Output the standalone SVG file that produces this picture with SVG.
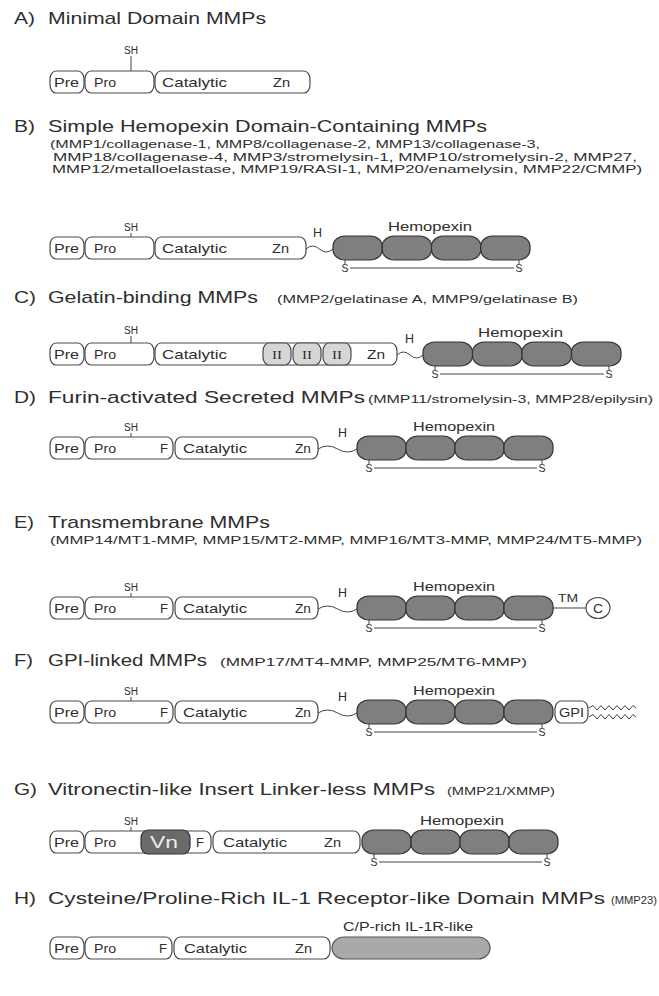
<svg xmlns="http://www.w3.org/2000/svg" width="659" height="996" viewBox="0 0 659 996">
<defs>
<style>
text{font-family:"Liberation Sans",Arial,sans-serif;fill:#2e2e2e}
.ttl{font-size:17px}
.sub{font-size:11px}
.sub2{font-size:10px}
.lb{font-size:13px}
.sm{font-size:11px}
.hx{font-size:12px}
.sh{font-size:10px}
.rn{font-family:"Liberation Serif",serif;font-size:13px}
.dom{fill:#fff;stroke:#4a4a4a;stroke-width:1.2}
.bl{fill:#7f7f7f;stroke:#333;stroke-width:1.2}
.ii{fill:#d6d6d6;stroke:#4a4a4a;stroke-width:1.2}
.vn{fill:#6a6a6a;stroke:#333;stroke-width:1.2}
.cp{fill:#a9a9a9;stroke:#555;stroke-width:1.2}
.cn{fill:none;stroke:#444;stroke-width:1}
</style>
<linearGradient id="proF" x1="0" x2="1" y1="0" y2="0"><stop offset="0.76" stop-color="#fff"/><stop offset="0.76" stop-color="#d4d4d4"/></linearGradient>
<linearGradient id="proG" x1="0" x2="1" y1="0" y2="0"><stop offset="0.825" stop-color="#fff"/><stop offset="0.825" stop-color="#d4d4d4"/></linearGradient>
</defs>

<g id="titles">
<text class="ttl" x="14" y="24" textLength="21" lengthAdjust="spacingAndGlyphs">A)</text>
<text class="ttl" x="48" y="24" textLength="218" lengthAdjust="spacingAndGlyphs">Minimal Domain MMPs</text>
<text class="ttl" x="14" y="132" textLength="21" lengthAdjust="spacingAndGlyphs">B)</text>
<text class="ttl" x="48" y="132" textLength="439" lengthAdjust="spacingAndGlyphs">Simple Hemopexin Domain-Containing MMPs</text>
<text class="sub" x="50" y="148" textLength="490" lengthAdjust="spacingAndGlyphs">(MMP1/collagenase-1, MMP8/collagenase-2, MMP13/collagenase-3,</text>
<text class="sub" x="53" y="160.5" textLength="584" lengthAdjust="spacingAndGlyphs">MMP18/collagenase-4, MMP3/stromelysin-1, MMP10/stromelysin-2, MMP27,</text>
<text class="sub" x="52" y="173" textLength="590" lengthAdjust="spacingAndGlyphs">MMP12/metalloelastase, MMP19/RASI-1, MMP20/enamelysin, MMP22/CMMP)</text>
<text class="ttl" x="14" y="303" textLength="22" lengthAdjust="spacingAndGlyphs">C)</text>
<text class="ttl" x="48" y="303" textLength="210" lengthAdjust="spacingAndGlyphs">Gelatin-binding MMPs</text>
<text class="sub" x="277" y="303" textLength="301" lengthAdjust="spacingAndGlyphs">(MMP2/gelatinase A, MMP9/gelatinase B)</text>
<text class="ttl" x="14" y="403" textLength="22" lengthAdjust="spacingAndGlyphs">D)</text>
<text class="ttl" x="48" y="403" textLength="317" lengthAdjust="spacingAndGlyphs">Furin-activated Secreted MMPs</text>
<text class="sub" x="368" y="403" textLength="285" lengthAdjust="spacingAndGlyphs">(MMP11/stromelysin-3, MMP28/epilysin)</text>
<text class="ttl" x="14" y="528" textLength="20" lengthAdjust="spacingAndGlyphs">E)</text>
<text class="ttl" x="48" y="528" textLength="222" lengthAdjust="spacingAndGlyphs">Transmembrane MMPs</text>
<text class="sub" x="50" y="544" textLength="592" lengthAdjust="spacingAndGlyphs">(MMP14/MT1-MMP, MMP15/MT2-MMP, MMP16/MT3-MMP, MMP24/MT5-MMP)</text>
<text class="ttl" x="14" y="666" textLength="19" lengthAdjust="spacingAndGlyphs">F)</text>
<text class="ttl" x="48" y="666" textLength="159" lengthAdjust="spacingAndGlyphs">GPI-linked MMPs</text>
<text class="sub" x="220" y="666" textLength="307" lengthAdjust="spacingAndGlyphs">(MMP17/MT4-MMP, MMP25/MT6-MMP)</text>
<text class="ttl" x="14" y="795" textLength="23" lengthAdjust="spacingAndGlyphs">G)</text>
<text class="ttl" x="48" y="795" textLength="387" lengthAdjust="spacingAndGlyphs">Vitronectin-like Insert Linker-less MMPs</text>
<text class="sub2" x="447" y="795" textLength="108" lengthAdjust="spacingAndGlyphs">(MMP21/XMMP)</text>
<text class="ttl" x="14" y="904" textLength="22" lengthAdjust="spacingAndGlyphs">H)</text>
<text class="ttl" x="48" y="904" textLength="557" lengthAdjust="spacingAndGlyphs">Cysteine/Proline-Rich IL-1 Receptor-like Domain MMPs</text>
<text class="sub2" x="611" y="904" textLength="46" lengthAdjust="spacingAndGlyphs">(MMP23)</text>
</g>

<g id="connectors">
<path class="cn" d="M131,56V71M131,233V237M131,336V343M131,433V437M131,593V597M131,697V701M131,827V831"/>
<path class="cn" d="M306,249q6.75,-6 13.5,0t13.5,0"/>
<path class="cn" d="M397,355q6.5,-6 13,0t13,0"/>
<path class="cn" d="M318,449q9.75,-6 19.5,0t19.5,0"/>
<path class="cn" d="M318,609q9.75,-6 19.5,0t19.5,0"/>
<path class="cn" d="M318,713q9.75,-6 19.5,0t19.5,0"/>
<path class="cn" d="M345,260V264M519,260V264M350,268H514"/>
<path class="cn" d="M435,366V370M609,366V370M440,374H604"/>
<path class="cn" d="M369,460V464M542,460V464M374,468H537"/>
<path class="cn" d="M369,620V624M542,620V624M374,628H537"/>
<path class="cn" d="M369,724V728M542,724V728M374,732H537"/>
<path class="cn" d="M374,854V858M547,854V858M379,862H542"/>
<path class="cn" d="M553,608H586"/>
<polyline class="cn" points="589,708 593,705.5 597,710 601,705.5 605,710 609,705.5 613,710 617,705.5 621,710 625,705.5 629,710 633,705.5 636,708"/>
<polyline class="cn" points="589,717 593,714.5 597,719 601,714.5 605,719 609,714.5 613,719 617,714.5 621,719 625,714.5 629,719 633,714.5 636,717"/>
</g>

<g id="rowA">
<g id="A-pre"><rect class="dom" x="50" y="71" width="34" height="22" rx="6" ry="8"/><text class="lb" x="54" y="87" textLength="25" lengthAdjust="spacingAndGlyphs">Pre</text></g>
<g id="A-pro"><rect class="dom" x="85" y="71" width="69" height="22" rx="6" ry="8"/><text class="lb" x="94" y="87" textLength="22" lengthAdjust="spacingAndGlyphs">Pro</text><text class="sh" x="124" y="54" textLength="14" lengthAdjust="spacingAndGlyphs">SH</text></g>
<g id="A-cat"><rect class="dom" x="155" y="71" width="155" height="22" rx="6" ry="8"/><text class="lb" x="162" y="87" textLength="65" lengthAdjust="spacingAndGlyphs">Catalytic</text><text class="lb" x="273" y="87" textLength="17" lengthAdjust="spacingAndGlyphs">Zn</text></g>
</g>

<g id="rowB">
<g id="B-pre"><rect class="dom" x="50" y="237" width="34" height="22" rx="6" ry="8"/><text class="lb" x="54" y="253" textLength="25" lengthAdjust="spacingAndGlyphs">Pre</text></g>
<g id="B-pro"><rect class="dom" x="85" y="237" width="69" height="22" rx="6" ry="8"/><text class="lb" x="94" y="253" textLength="22" lengthAdjust="spacingAndGlyphs">Pro</text><text class="sh" x="124" y="231" textLength="14" lengthAdjust="spacingAndGlyphs">SH</text></g>
<g id="B-cat"><rect class="dom" x="155" y="237" width="151" height="22" rx="6" ry="8"/><text class="lb" x="162" y="253" textLength="65" lengthAdjust="spacingAndGlyphs">Catalytic</text><text class="lb" x="272" y="253" textLength="17" lengthAdjust="spacingAndGlyphs">Zn</text></g>
<text class="hx" x="313" y="237" textLength="9" lengthAdjust="spacingAndGlyphs">H</text>
<g id="B-hpx"><rect class="bl" x="333" y="236" width="49.25" height="24" rx="12" ry="10"/><rect class="bl" x="382.25" y="236" width="49.25" height="24" rx="12" ry="10"/><rect class="bl" x="431.5" y="236" width="49.25" height="24" rx="12" ry="10"/><rect class="bl" x="480.75" y="236" width="49.25" height="24" rx="12" ry="10"/>
<text class="hx" x="388" y="231" textLength="84" lengthAdjust="spacingAndGlyphs">Hemopexin</text>
<text class="sm" x="341.5" y="272" textLength="7" lengthAdjust="spacingAndGlyphs">S</text><text class="sm" x="515.5" y="272" textLength="7" lengthAdjust="spacingAndGlyphs">S</text></g>
</g>

<g id="rowC">
<g id="C-pre"><rect class="dom" x="50" y="343" width="34" height="22" rx="6" ry="8"/><text class="lb" x="54" y="359" textLength="25" lengthAdjust="spacingAndGlyphs">Pre</text></g>
<g id="C-pro"><rect class="dom" x="85" y="343" width="69" height="22" rx="6" ry="8"/><text class="lb" x="94" y="359" textLength="22" lengthAdjust="spacingAndGlyphs">Pro</text><text class="sh" x="124" y="334" textLength="14" lengthAdjust="spacingAndGlyphs">SH</text></g>
<g id="C-cat"><rect class="dom" x="155" y="343" width="242" height="22" rx="6" ry="8"/><text class="lb" x="162" y="359" textLength="65" lengthAdjust="spacingAndGlyphs">Catalytic</text><text class="lb" x="367" y="359" textLength="18" lengthAdjust="spacingAndGlyphs">Zn</text></g>
<g id="C-fn"><rect class="ii" x="263" y="343" width="28" height="22" rx="6" ry="8"/><rect class="ii" x="293" y="343" width="28" height="22" rx="6" ry="8"/><rect class="ii" x="323" y="343" width="28" height="22" rx="6" ry="8"/>
<text class="rn" x="272" y="359" textLength="10" lengthAdjust="spacingAndGlyphs">II</text><text class="rn" x="302" y="359" textLength="10" lengthAdjust="spacingAndGlyphs">II</text><text class="rn" x="332" y="359" textLength="10" lengthAdjust="spacingAndGlyphs">II</text></g>
<text class="hx" x="405" y="343" textLength="9" lengthAdjust="spacingAndGlyphs">H</text>
<g id="C-hpx"><rect class="bl" x="423" y="342" width="49.5" height="24" rx="12" ry="10"/><rect class="bl" x="472.5" y="342" width="49.5" height="24" rx="12" ry="10"/><rect class="bl" x="522" y="342" width="49.5" height="24" rx="12" ry="10"/><rect class="bl" x="571.5" y="342" width="49.5" height="24" rx="12" ry="10"/>
<text class="hx" x="478" y="337" textLength="85" lengthAdjust="spacingAndGlyphs">Hemopexin</text>
<text class="sm" x="431.5" y="378" textLength="7" lengthAdjust="spacingAndGlyphs">S</text><text class="sm" x="605.5" y="378" textLength="7" lengthAdjust="spacingAndGlyphs">S</text></g>
</g>

<g id="rowD">
<g id="D-pre"><rect class="dom" x="50" y="437" width="34" height="22" rx="6" ry="8"/><text class="lb" x="54" y="453" textLength="25" lengthAdjust="spacingAndGlyphs">Pre</text></g>
<g id="D-pro"><rect class="dom" x="85" y="437" width="88" height="22" rx="6" ry="8" fill="url(#proF)"/><text class="lb" x="94" y="453" textLength="22" lengthAdjust="spacingAndGlyphs">Pro</text><text class="lb" x="160" y="453" textLength="8" lengthAdjust="spacingAndGlyphs">F</text><text class="sh" x="124" y="431" textLength="14" lengthAdjust="spacingAndGlyphs">SH</text></g>
<g id="D-cat"><rect class="dom" x="175" y="437" width="143" height="22" rx="6" ry="8"/><text class="lb" x="183" y="453" textLength="64" lengthAdjust="spacingAndGlyphs">Catalytic</text><text class="lb" x="295" y="453" textLength="16" lengthAdjust="spacingAndGlyphs">Zn</text></g>
<text class="hx" x="338" y="437" textLength="9" lengthAdjust="spacingAndGlyphs">H</text>
<g id="D-hpx"><rect class="bl" x="357" y="436" width="49" height="24" rx="12" ry="10"/><rect class="bl" x="406" y="436" width="49" height="24" rx="12" ry="10"/><rect class="bl" x="455" y="436" width="49" height="24" rx="12" ry="10"/><rect class="bl" x="504" y="436" width="49" height="24" rx="12" ry="10"/>
<text class="hx" x="413" y="431" textLength="82" lengthAdjust="spacingAndGlyphs">Hemopexin</text>
<text class="sm" x="365.5" y="472" textLength="7" lengthAdjust="spacingAndGlyphs">S</text><text class="sm" x="538.5" y="472" textLength="7" lengthAdjust="spacingAndGlyphs">S</text></g>
</g>

<g id="rowE">
<g id="E-pre"><rect class="dom" x="50" y="597" width="34" height="22" rx="6" ry="8"/><text class="lb" x="54" y="613" textLength="25" lengthAdjust="spacingAndGlyphs">Pre</text></g>
<g id="E-pro"><rect class="dom" x="85" y="597" width="88" height="22" rx="6" ry="8" fill="url(#proF)"/><text class="lb" x="94" y="613" textLength="22" lengthAdjust="spacingAndGlyphs">Pro</text><text class="lb" x="160" y="613" textLength="8" lengthAdjust="spacingAndGlyphs">F</text><text class="sh" x="124" y="591" textLength="14" lengthAdjust="spacingAndGlyphs">SH</text></g>
<g id="E-cat"><rect class="dom" x="175" y="597" width="143" height="22" rx="6" ry="8"/><text class="lb" x="183" y="613" textLength="64" lengthAdjust="spacingAndGlyphs">Catalytic</text><text class="lb" x="295" y="613" textLength="16" lengthAdjust="spacingAndGlyphs">Zn</text></g>
<text class="hx" x="338" y="597" textLength="9" lengthAdjust="spacingAndGlyphs">H</text>
<g id="E-hpx"><rect class="bl" x="357" y="596" width="49" height="24" rx="12" ry="10"/><rect class="bl" x="406" y="596" width="49" height="24" rx="12" ry="10"/><rect class="bl" x="455" y="596" width="49" height="24" rx="12" ry="10"/><rect class="bl" x="504" y="596" width="49" height="24" rx="12" ry="10"/>
<text class="hx" x="413" y="591" textLength="82" lengthAdjust="spacingAndGlyphs">Hemopexin</text>
<text class="sm" x="365.5" y="632" textLength="7" lengthAdjust="spacingAndGlyphs">S</text><text class="sm" x="538.5" y="632" textLength="7" lengthAdjust="spacingAndGlyphs">S</text></g>
<text class="sm" x="558" y="602" textLength="20" lengthAdjust="spacingAndGlyphs">TM</text>
<g id="E-cyt"><ellipse class="dom" cx="598" cy="608" rx="12" ry="10.5"/><text class="hx" x="593" y="612.5" textLength="10" lengthAdjust="spacingAndGlyphs">C</text></g>
</g>

<g id="rowF">
<g id="F-pre"><rect class="dom" x="50" y="701" width="34" height="22" rx="6" ry="8"/><text class="lb" x="54" y="717" textLength="25" lengthAdjust="spacingAndGlyphs">Pre</text></g>
<g id="F-pro"><rect class="dom" x="85" y="701" width="88" height="22" rx="6" ry="8" fill="url(#proF)"/><text class="lb" x="94" y="717" textLength="22" lengthAdjust="spacingAndGlyphs">Pro</text><text class="lb" x="160" y="717" textLength="8" lengthAdjust="spacingAndGlyphs">F</text><text class="sh" x="124" y="695" textLength="14" lengthAdjust="spacingAndGlyphs">SH</text></g>
<g id="F-cat"><rect class="dom" x="175" y="701" width="143" height="22" rx="6" ry="8"/><text class="lb" x="183" y="717" textLength="64" lengthAdjust="spacingAndGlyphs">Catalytic</text><text class="lb" x="295" y="717" textLength="16" lengthAdjust="spacingAndGlyphs">Zn</text></g>
<text class="hx" x="338" y="701" textLength="9" lengthAdjust="spacingAndGlyphs">H</text>
<g id="F-hpx"><rect class="bl" x="357" y="700" width="49" height="24" rx="12" ry="10"/><rect class="bl" x="406" y="700" width="49" height="24" rx="12" ry="10"/><rect class="bl" x="455" y="700" width="49" height="24" rx="12" ry="10"/><rect class="bl" x="504" y="700" width="49" height="24" rx="12" ry="10"/>
<text class="hx" x="413" y="695" textLength="82" lengthAdjust="spacingAndGlyphs">Hemopexin</text>
<text class="sm" x="365.5" y="736" textLength="7" lengthAdjust="spacingAndGlyphs">S</text><text class="sm" x="538.5" y="736" textLength="7" lengthAdjust="spacingAndGlyphs">S</text></g>
<g id="F-gpi"><rect class="dom" x="555" y="701" width="33" height="22" rx="6" ry="8"/><text class="hx" x="559" y="717" textLength="25" lengthAdjust="spacingAndGlyphs">GPI</text></g>
</g>

<g id="rowG">
<g id="G-pre"><rect class="dom" x="50" y="831" width="34" height="22" rx="6" ry="8"/><text class="lb" x="54" y="847" textLength="25" lengthAdjust="spacingAndGlyphs">Pre</text></g>
<g id="G-pro"><rect class="dom" x="85" y="831" width="126" height="22" rx="6" ry="8" fill="url(#proG)"/><text class="lb" x="94" y="847" textLength="22" lengthAdjust="spacingAndGlyphs">Pro</text><text class="lb" x="196" y="847" textLength="8" lengthAdjust="spacingAndGlyphs">F</text><text class="sh" x="124" y="825" textLength="14" lengthAdjust="spacingAndGlyphs">SH</text></g>
<g id="G-vn"><rect class="vn" x="141" y="830" width="49" height="24" rx="7" ry="8"/><text x="150" y="848" font-size="17" style="fill:#eee" textLength="28" lengthAdjust="spacingAndGlyphs">Vn</text></g>
<g id="G-cat"><rect class="dom" x="213" y="831" width="147" height="22" rx="6" ry="8"/><text class="lb" x="223" y="847" textLength="64" lengthAdjust="spacingAndGlyphs">Catalytic</text><text class="lb" x="324" y="847" textLength="17" lengthAdjust="spacingAndGlyphs">Zn</text></g>
<g id="G-hpx"><rect class="bl" x="362" y="830" width="49" height="24" rx="12" ry="10"/><rect class="bl" x="411" y="830" width="49" height="24" rx="12" ry="10"/><rect class="bl" x="460" y="830" width="49" height="24" rx="12" ry="10"/><rect class="bl" x="509" y="830" width="49" height="24" rx="12" ry="10"/>
<text class="hx" x="420" y="825" textLength="84" lengthAdjust="spacingAndGlyphs">Hemopexin</text>
<text class="sm" x="370.5" y="866" textLength="7" lengthAdjust="spacingAndGlyphs">S</text><text class="sm" x="543.5" y="866" textLength="7" lengthAdjust="spacingAndGlyphs">S</text></g>
</g>

<g id="rowH">
<g id="H-pre"><rect class="dom" x="50" y="937" width="34" height="22" rx="6" ry="8"/><text class="lb" x="54" y="953" textLength="25" lengthAdjust="spacingAndGlyphs">Pre</text></g>
<g id="H-pro"><rect class="dom" x="85" y="937" width="87" height="22" rx="6" ry="8" fill="url(#proF)"/><text class="lb" x="94" y="953" textLength="22" lengthAdjust="spacingAndGlyphs">Pro</text><text class="lb" x="159" y="953" textLength="8" lengthAdjust="spacingAndGlyphs">F</text></g>
<g id="H-cat"><rect class="dom" x="174" y="937" width="156" height="22" rx="6" ry="8"/><text class="lb" x="184" y="953" textLength="63" lengthAdjust="spacingAndGlyphs">Catalytic</text><text class="lb" x="295" y="953" textLength="17" lengthAdjust="spacingAndGlyphs">Zn</text></g>
<g id="H-cp"><rect class="cp" x="332" y="937" width="158" height="22" rx="12" ry="11"/><text class="hx" x="343" y="931" textLength="130" lengthAdjust="spacingAndGlyphs">C/P-rich IL-1R-like</text></g>
</g>
</svg>
